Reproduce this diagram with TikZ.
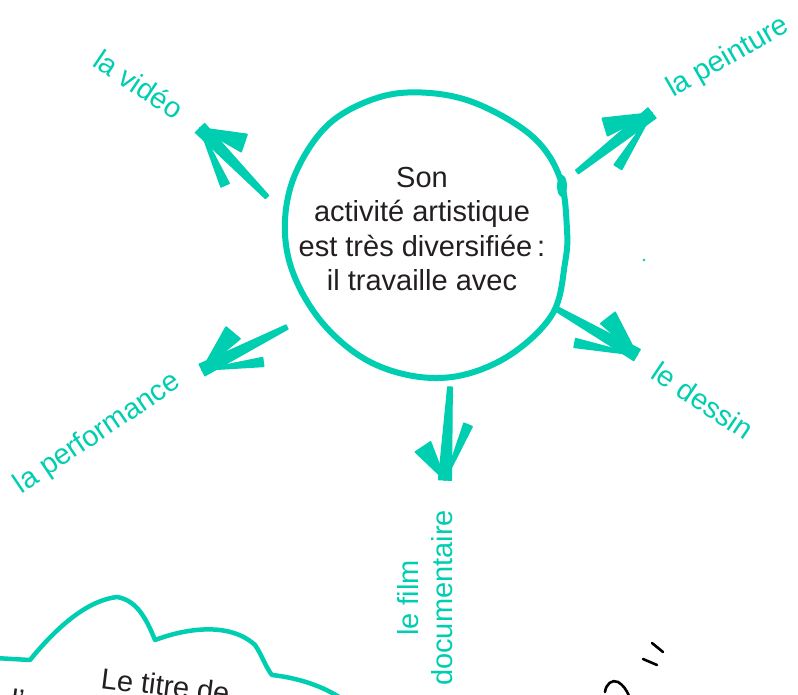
\documentclass[tikz,border=0pt]{standalone}
\usepackage{fontspec}
\setmainfont{Liberation Sans}
\usetikzlibrary{calc}
\definecolor{mint}{RGB}{0,206,177}
\definecolor{ink}{RGB}{35,31,32}
% #1 tail, #2 tip, #3 thick arm end, #4 thin arm end
\newcommand{\handarrow}[4]{%
  \fill[mint,draw=mint,line width=1.2pt,line join=round]
    ($(#2)!6.5pt!90:(#1)$) -- ($(#1)!2.3pt!-90:(#2)$) -- ($(#1)!2.3pt!90:(#2)$) -- ($(#2)!6.5pt!-90:(#1)$) -- cycle;
  \fill[mint,draw=mint,line width=1.8pt,line join=round]
    (#2) -- ($(#3)!9pt!90:(#2)$) -- ($(#3)!9pt!-90:(#2)$) -- cycle;
  \fill[mint,draw=mint,line width=1.8pt,line join=round]
    (#2) -- ($(#4)!4.3pt!90:(#2)$) -- ($(#4)!4.3pt!-90:(#2)$) -- cycle;
}
\tikzset{
  big/.style={font=\fontsize{29}{34.5}\selectfont},
  lab/.style={big,text=mint,inner sep=0pt},
  body/.style={big,text=ink,inner sep=0pt,align=center},
  pen/.style={draw=black,line width=2.6pt,line cap=round},
}
\begin{document}
\begin{tikzpicture}[x=1pt,y=-1pt]
\useasboundingbox (0,0) rectangle (798,694);
\fill[white] (0,0) rectangle (798,694);
\clip (0,0) rectangle (798,694);

% central circle
\draw[mint,line width=6pt] plot[smooth cycle,tension=0.6] coordinates {
 (430,93) (480,105) (533,137) (560,178) (567,230) (565,263) (553,313)
 (513,353) (463,375) (413,376) (363,358) (320,320) (292,270) (285,220)
 (297,170) (330,123) (380,97)};
\fill[mint] (562,186) ellipse (5 and 11);

\node[body,anchor=north] (center) at (422,167)
  {Son\\activité artistique\\est très diversifiée\,:\\il travaille avec};

% arrow coordinates
\coordinate (t1) at (267,197); \coordinate (p1) at (200,128);
\coordinate (a1) at (244,143); \coordinate (b1) at (225,185);
\coordinate (t2) at (577,172); \coordinate (p2) at (652,113);
\coordinate (a2) at (605,127); \coordinate (b2) at (618,167);
\coordinate (t3) at (287,327); \coordinate (p3) at (202,370);
\coordinate (a3) at (233,333); \coordinate (b3) at (263,362);
\coordinate (t4) at (555,308); \coordinate (p4) at (637,355);
\coordinate (a4) at (608,318); \coordinate (b4) at (575,343);
\coordinate (t5) at (450,387); \coordinate (p5) at (445,480);
\coordinate (a5) at (423,447); \coordinate (b5) at (468,425);

\handarrow{t1}{p1}{a1}{b1}
\handarrow{t2}{p2}{a2}{b2}
\handarrow{t3}{p3}{a3}{b3}
\handarrow{t4}{p4}{a4}{b4}
\handarrow{t5}{p5}{a5}{b5}

% labels
\node[lab,anchor=base,rotate=-34] (video) at (133,93) {la vidéo};
\node[lab,anchor=base,rotate=30] (peinture) at (732,64) {la peinture};
\node[lab,anchor=base,rotate=34] (perf) at (102,440) {la performance};
\node[lab,anchor=base,rotate=-34] (dessin) at (697,409) {le dessin};
\node[lab,align=center,rotate=90] (film) at (425,598) {le film\\documentaire};

\fill[mint] (644,260) circle (1.3);

% cloud (partial)
\draw[mint,line width=4.5pt,line join=round] (-5,658) -- (30,660)
  .. controls (60,623) and (90,600) .. (117,597)
  .. controls (135,600) and (145,615) .. (155,640)
  .. controls (187,628) and (230,622) .. (255,645)
  .. controls (262,655) and (266,668) .. (272,675)
  .. controls (300,678) and (330,688) .. (350,705);
\node[body,anchor=base west,rotate=-7] (cloudtext) at (100,688) {Le titre de};
\node[body,anchor=base west,rotate=-7] (cloudtext2) at (10,709) {l'};

% black hand marks
\draw[pen] (652,643) -- (663,652);
\draw[pen] (643,659) -- (657,665);
\draw[pen] (605,692) .. controls (606,684) and (612,679) .. (618,682)
  .. controls (623,685) and (626,689) .. (629,696);
\end{tikzpicture}
\end{document}
